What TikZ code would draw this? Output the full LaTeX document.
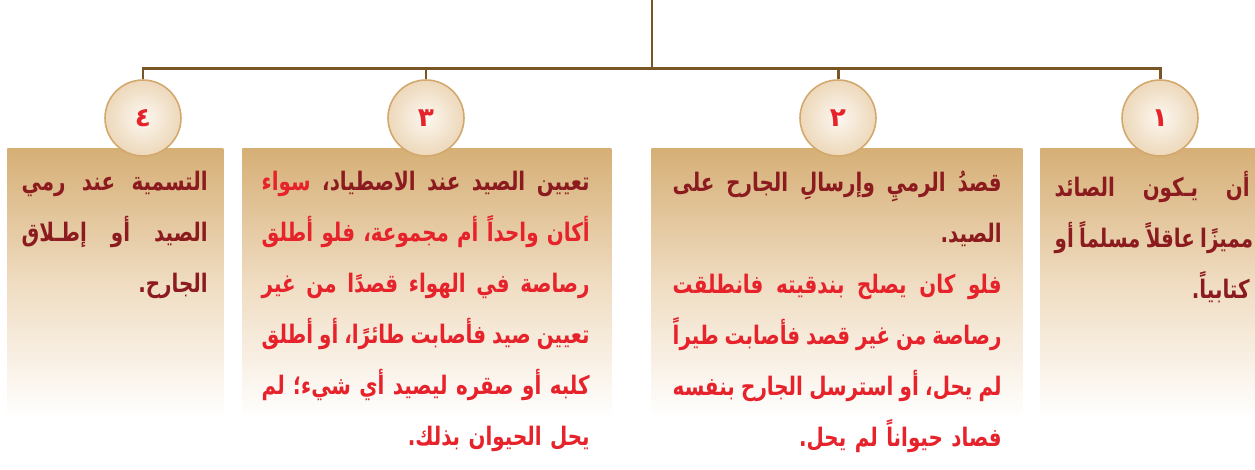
\documentclass[tikz,border=0pt]{standalone}
\usepackage{xcolor}
\usepackage{fontspec}
\usepackage{tikz}
\usetikzlibrary{positioning, calc, shadings}
\TeXXeTstate=1
\newfontfamily\arabicfont[Script=Arabic, FakeStretch=0.78]{DejaVu Sans}
\newfontfamily\numfont[Script=Arabic]{DejaVu Sans}
\setlength{\parindent}{0pt}

\definecolor{treebrown}{HTML}{7A5526}
\definecolor{ringtan}{HTML}{D2A86C}
\definecolor{ringin}{HTML}{FCF7F0}
\definecolor{ringout}{HTML}{EDD8BA}
\definecolor{boxtop}{HTML}{D6AF76}
\definecolor{boxmid}{HTML}{F0DDC3}
\definecolor{darkred}{HTML}{8C1B20}
\definecolor{tred}{HTML}{E6222B}

\pgfdeclareverticalshading{boxfade}{100bp}{color(0bp)=(white); color(25bp)=(white); color(30bp)=(white); color(52bp)=(boxmid); color(75bp)=(boxtop); color(100bp)=(boxtop)}

% one word, gap, justified line (words in visual order), last line
\newcommand{\aw}[1]{\beginR #1\endR}
\newcommand{\gap}{\hskip 3pt plus 1fil}
\newcommand{\jl}[1]{\makebox[\hsize][s]{#1}}
\newcommand{\rl}[1]{\hfill\beginR #1\endR}

\begin{document}
\begin{tikzpicture}[x=0.02cm, y=-0.02cm,
    tree/.style={draw=treebrown, line width=1.7pt},
    num/.style={circle, draw=ringtan, line width=0.9pt, inner color=ringin, outer color=ringout, minimum size=1.52cm, inner sep=0pt, font=\numfont\bfseries\fontsize{15}{15}\selectfont, text=tred},
    card/.style={anchor=north west, minimum height=6cm, inner sep=0pt, shading=boxfade},
    txt/.style={anchor=north east, inner sep=0pt, align=right, font=\arabicfont\bfseries\fontsize{14.5}{29}\selectfont, text=darkred}
]
    \useasboundingbox (0,0) rectangle (1255,470);

    % cards
    \node[card, minimum width=4.32cm] (b4) at (7,148) {};
    \node[card, minimum width=7.38cm] (b3) at (242,148) {};
    \node[card, minimum width=7.42cm] (b2) at (651,148) {};
    \node[card, minimum width=4.30cm] (b1) at (1040,148) {};

    % number circles
    \node[num] (c4) at (143,118) {\beginR ٤\endR};
    \node[num] (c3) at (426,118) {\beginR ٣\endR};
    \node[num] (c2) at (838,118) {\beginR ٢\endR};
    \node[num] (c1) at (1160,118) {\beginR ١\endR};

    % tree lines
    \coordinate (root) at (652,0);
    \coordinate (bus) at (652,69);
    \draw[tree] (root) -- (bus);
    \draw[tree] (c4.north) -- ++(0,-11) -| (c1.north);
    \draw[tree] (c3.north) -- ++(0,-11);
    \draw[tree] (c2.north) -- ++(0,-11);

    % texts
    \node[txt, text width=3.9cm] (t1) at (1250,171) {%
        \jl{\aw{الصائد}\gap\aw{يـكون}\gap\aw{أن}}\\
        \jl{\aw{أو}\gap\aw{مسلماً}\gap\aw{عاقلاً}\gap\aw{مميزًا}}\\
        \rl{كتابياً.}};
    \node[txt, text width=6.58cm] (t2) at (1002,171) {%
        \jl{\aw{على}\gap\aw{الجارح}\gap\aw{وإرسالِ}\gap\aw{الرميِ}\gap\aw{قصدُ}}\\
        \rl{الصيد.}\\
        {\color{tred}\jl{\aw{فانطلقت}\gap\aw{بندقيته}\gap\aw{يصلح}\gap\aw{كان}\gap\aw{فلو}}}\\
        {\color{tred}\jl{\aw{طيراً}\gap\aw{فأصابت}\gap\aw{قصد}\gap\aw{غير}\gap\aw{من}\gap\aw{رصاصة}}}\\
        {\color{tred}\jl{\aw{بنفسه}\gap\aw{الجارح}\gap\aw{استرسل}\gap\aw{أو}\gap\aw{يحل،}\gap\aw{لم}}}\\
        {\color{tred}\rl{فصاد حيواناً لم يحل.}}};
    \node[txt, text width=6.56cm] (t3) at (590,171) {%
        \jl{\textcolor{tred}{\aw{سواء}}\gap\aw{الاصطياد،}\gap\aw{عند}\gap\aw{الصيد}\gap\aw{تعيين}}\\
        {\color{tred}\jl{\aw{أطلق}\gap\aw{فلو}\gap\aw{مجموعة،}\gap\aw{أم}\gap\aw{واحداً}\gap\aw{أكان}}}\\
        {\color{tred}\jl{\aw{غير}\gap\aw{من}\gap\aw{قصدًا}\gap\aw{الهواء}\gap\aw{في}\gap\aw{رصاصة}}}\\
        {\color{tred}\jl{\aw{أطلق}\gap\aw{أو}\gap\aw{طائرًا،}\gap\aw{فأصابت}\gap\aw{صيد}\gap\aw{تعيين}}}\\
        {\color{tred}\jl{\aw{لم}\gap\aw{شيء؛}\gap\aw{أي}\gap\aw{ليصيد}\gap\aw{صقره}\gap\aw{أو}\gap\aw{كلبه}}}\\
        {\color{tred}\rl{يحل الحيوان بذلك.}}};
    \node[txt, text width=3.72cm] (t4) at (208,171) {%
        \jl{\aw{رمي}\gap\aw{عند}\gap\aw{التسمية}}\\
        \jl{\aw{إطـلاق}\gap\aw{أو}\gap\aw{الصيد}}\\
        \rl{الجارح.}};
\end{tikzpicture}
\end{document}
